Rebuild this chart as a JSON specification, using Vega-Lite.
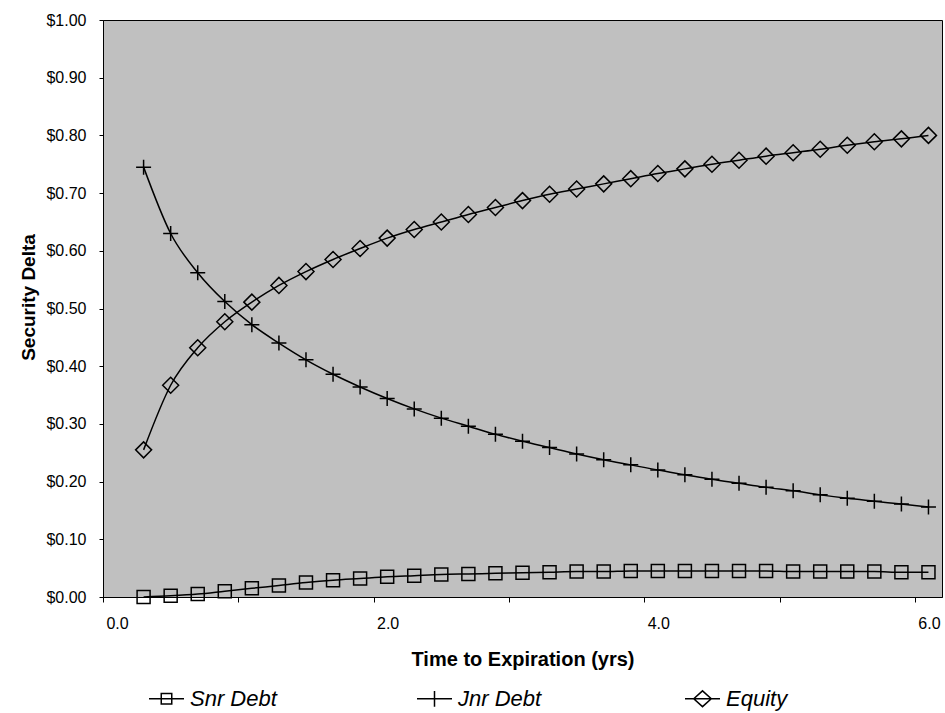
{
  "$schema": "https://vega.github.io/schema/vega-lite/v6.json",
  "width": 839,
  "height": 577,
  "autosize": {"type": "none"},
  "padding": {"left": 103, "top": 20, "right": 3, "bottom": 116},
  "background": "white",
  "config": {
    "font": "Liberation Sans",
    "view": {"fill": "#C0C0C0", "stroke": "black", "strokeWidth": 1}
  },
  "data": {
    "values": [
      {"t": 0.2, "series": "Snr Debt", "delta": 0.000},
      {"t": 0.4, "series": "Snr Debt", "delta": 0.002},
      {"t": 0.6, "series": "Snr Debt", "delta": 0.005},
      {"t": 0.8, "series": "Snr Debt", "delta": 0.010},
      {"t": 1.0, "series": "Snr Debt", "delta": 0.015},
      {"t": 1.2, "series": "Snr Debt", "delta": 0.020},
      {"t": 1.4, "series": "Snr Debt", "delta": 0.025},
      {"t": 1.6, "series": "Snr Debt", "delta": 0.029},
      {"t": 1.8, "series": "Snr Debt", "delta": 0.032},
      {"t": 2.0, "series": "Snr Debt", "delta": 0.035},
      {"t": 2.2, "series": "Snr Debt", "delta": 0.037},
      {"t": 2.4, "series": "Snr Debt", "delta": 0.039},
      {"t": 2.6, "series": "Snr Debt", "delta": 0.040},
      {"t": 2.8, "series": "Snr Debt", "delta": 0.041},
      {"t": 3.0, "series": "Snr Debt", "delta": 0.042},
      {"t": 3.2, "series": "Snr Debt", "delta": 0.043},
      {"t": 3.4, "series": "Snr Debt", "delta": 0.044},
      {"t": 3.6, "series": "Snr Debt", "delta": 0.044},
      {"t": 3.8, "series": "Snr Debt", "delta": 0.045},
      {"t": 4.0, "series": "Snr Debt", "delta": 0.045},
      {"t": 4.2, "series": "Snr Debt", "delta": 0.045},
      {"t": 4.4, "series": "Snr Debt", "delta": 0.045},
      {"t": 4.6, "series": "Snr Debt", "delta": 0.045},
      {"t": 4.8, "series": "Snr Debt", "delta": 0.045},
      {"t": 5.0, "series": "Snr Debt", "delta": 0.044},
      {"t": 5.2, "series": "Snr Debt", "delta": 0.044},
      {"t": 5.4, "series": "Snr Debt", "delta": 0.044},
      {"t": 5.6, "series": "Snr Debt", "delta": 0.044},
      {"t": 5.8, "series": "Snr Debt", "delta": 0.043},
      {"t": 6.0, "series": "Snr Debt", "delta": 0.043},
      {"t": 0.2, "series": "Jnr Debt", "delta": 0.745},
      {"t": 0.4, "series": "Jnr Debt", "delta": 0.630},
      {"t": 0.6, "series": "Jnr Debt", "delta": 0.562},
      {"t": 0.8, "series": "Jnr Debt", "delta": 0.512},
      {"t": 1.0, "series": "Jnr Debt", "delta": 0.472},
      {"t": 1.2, "series": "Jnr Debt", "delta": 0.440},
      {"t": 1.4, "series": "Jnr Debt", "delta": 0.411},
      {"t": 1.6, "series": "Jnr Debt", "delta": 0.386},
      {"t": 1.8, "series": "Jnr Debt", "delta": 0.364},
      {"t": 2.0, "series": "Jnr Debt", "delta": 0.344},
      {"t": 2.2, "series": "Jnr Debt", "delta": 0.326},
      {"t": 2.4, "series": "Jnr Debt", "delta": 0.310},
      {"t": 2.6, "series": "Jnr Debt", "delta": 0.296},
      {"t": 2.8, "series": "Jnr Debt", "delta": 0.282},
      {"t": 3.0, "series": "Jnr Debt", "delta": 0.270},
      {"t": 3.2, "series": "Jnr Debt", "delta": 0.259},
      {"t": 3.4, "series": "Jnr Debt", "delta": 0.248},
      {"t": 3.6, "series": "Jnr Debt", "delta": 0.238},
      {"t": 3.8, "series": "Jnr Debt", "delta": 0.229},
      {"t": 4.0, "series": "Jnr Debt", "delta": 0.220},
      {"t": 4.2, "series": "Jnr Debt", "delta": 0.212},
      {"t": 4.4, "series": "Jnr Debt", "delta": 0.204},
      {"t": 4.6, "series": "Jnr Debt", "delta": 0.197},
      {"t": 4.8, "series": "Jnr Debt", "delta": 0.190},
      {"t": 5.0, "series": "Jnr Debt", "delta": 0.184},
      {"t": 5.2, "series": "Jnr Debt", "delta": 0.177},
      {"t": 5.4, "series": "Jnr Debt", "delta": 0.171},
      {"t": 5.6, "series": "Jnr Debt", "delta": 0.166},
      {"t": 5.8, "series": "Jnr Debt", "delta": 0.161},
      {"t": 6.0, "series": "Jnr Debt", "delta": 0.156},
      {"t": 0.2, "series": "Equity", "delta": 0.255},
      {"t": 0.4, "series": "Equity", "delta": 0.367},
      {"t": 0.6, "series": "Equity", "delta": 0.432},
      {"t": 0.8, "series": "Equity", "delta": 0.477},
      {"t": 1.0, "series": "Equity", "delta": 0.511},
      {"t": 1.2, "series": "Equity", "delta": 0.540},
      {"t": 1.4, "series": "Equity", "delta": 0.564},
      {"t": 1.6, "series": "Equity", "delta": 0.585},
      {"t": 1.8, "series": "Equity", "delta": 0.604},
      {"t": 2.0, "series": "Equity", "delta": 0.622},
      {"t": 2.2, "series": "Equity", "delta": 0.637},
      {"t": 2.4, "series": "Equity", "delta": 0.650},
      {"t": 2.6, "series": "Equity", "delta": 0.663},
      {"t": 2.8, "series": "Equity", "delta": 0.675},
      {"t": 3.0, "series": "Equity", "delta": 0.687},
      {"t": 3.2, "series": "Equity", "delta": 0.698},
      {"t": 3.4, "series": "Equity", "delta": 0.707},
      {"t": 3.6, "series": "Equity", "delta": 0.716},
      {"t": 3.8, "series": "Equity", "delta": 0.725},
      {"t": 4.0, "series": "Equity", "delta": 0.734},
      {"t": 4.2, "series": "Equity", "delta": 0.742},
      {"t": 4.4, "series": "Equity", "delta": 0.750},
      {"t": 4.6, "series": "Equity", "delta": 0.757},
      {"t": 4.8, "series": "Equity", "delta": 0.764},
      {"t": 5.0, "series": "Equity", "delta": 0.770},
      {"t": 5.2, "series": "Equity", "delta": 0.776},
      {"t": 5.4, "series": "Equity", "delta": 0.783},
      {"t": 5.6, "series": "Equity", "delta": 0.789},
      {"t": 5.8, "series": "Equity", "delta": 0.794},
      {"t": 6.0, "series": "Equity", "delta": 0.800}
    ]
  },
  "encoding": {
    "x": {
      "field": "t",
      "type": "quantitative",
      "scale": {"domain": [-0.1, 6.1], "nice": false, "zero": false},
      "axis": {
        "title": "Time to Expiration (yrs)",
        "values": [-0.1, 0.9, 1.9, 2.9, 3.9, 4.9, 5.9],
        "labelExpr": "round(datum.value * 10 + 1) % 20 == 0 ? format(datum.value + 0.1, '.1f') : ''",
        "labelOffset": 14,
        "labelFlush": false,
        "labelOverlap": false,
        "grid": false,
        "domainColor": "black",
        "tickColor": "black",
        "tickSize": 5,
        "labelPadding": 13,
        "labelFont": "Liberation Sans",
        "labelFontSize": 16,
        "labelColor": "black",
        "titleFont": "Liberation Sans",
        "titleFontSize": 20,
        "titleFontWeight": "bold",
        "titleColor": "black",
        "titleY": 68,
        "titleBaseline": "alphabetic"
      }
    },
    "y": {
      "field": "delta",
      "type": "quantitative",
      "scale": {"domain": [0, 1], "nice": false},
      "axis": {
        "title": "Security Delta",
        "values": [0, 0.1, 0.2, 0.3, 0.4, 0.5, 0.6, 0.7, 0.8, 0.9, 1.0],
        "format": "$.2f",
        "grid": false,
        "domainColor": "black",
        "tickColor": "black",
        "tickSize": 4,
        "labelPadding": 13,
        "labelFont": "Liberation Sans",
        "labelFontSize": 16,
        "labelColor": "black",
        "titleFont": "Liberation Sans",
        "titleFontSize": 19,
        "titleFontWeight": "bold",
        "titleColor": "black",
        "titleX": -75,
        "titleY": 277,
        "titleAngle": -90,
        "titleAlign": "center",
        "titleBaseline": "middle"
      }
    }
  },
  "resolve": {"scale": {"shape": "independent"}, "legend": {"shape": "independent"}},
  "layer": [
    {
      "mark": {"type": "line", "color": "black", "strokeWidth": 1.5, "interpolate": "monotone"},
      "encoding": {"detail": {"field": "series", "type": "nominal"}}
    },
    {
      "mark": {"type": "point", "filled": false, "color": "black", "strokeWidth": 1.5, "size": 400, "opacity": 1},
      "encoding": {
        "shape": {
          "field": "series",
          "type": "nominal",
          "scale": {
            "domain": ["Snr Debt", "Jnr Debt", "Equity"],
            "range": [
              "M-0.65,-0.65H0.65V0.65H-0.65Z",
              "M-0.75,0H0.75M0,-0.75V0.75",
              "M-0.8,0L0,-0.8L0.8,0L0,0.8Z"
            ]
          },
          "legend": null
        }
      }
    },
    {
      "mark": {"type": "point", "filled": false, "color": "black", "strokeWidth": 1.5, "size": 1225, "opacity": 0},
      "encoding": {
        "shape": {
          "field": "series",
          "type": "nominal",
          "scale": {
            "domain": ["Snr Debt", "Jnr Debt", "Equity"],
            "range": [
              "M-1,0H1M-0.3,-0.3H0.3V0.3H-0.3Z",
              "M-1,0H1M0,-0.45V0.45",
              "M-1,0H1M-0.5,0L0,-0.45L0.5,0L0,0.45Z"
            ]
          },
          "legend": {
            "title": null,
            "orient": "none",
            "legendX": 45,
            "legendY": 660,
            "direction": "horizontal",
            "columns": 3,
            "gridAlign": "all",
            "columnPadding": 137,
            "symbolSize": 1225,
            "symbolStrokeWidth": 1.5,
            "symbolStrokeColor": "black",
            "symbolFillColor": "transparent",
            "symbolOpacity": 1,
            "labelFont": "Liberation Sans",
            "labelFontSize": 22,
            "labelFontStyle": "italic",
            "labelColor": "black",
            "labelOffset": 5,
            "labelLimit": 200
          }
        }
      }
    }
  ]
}
